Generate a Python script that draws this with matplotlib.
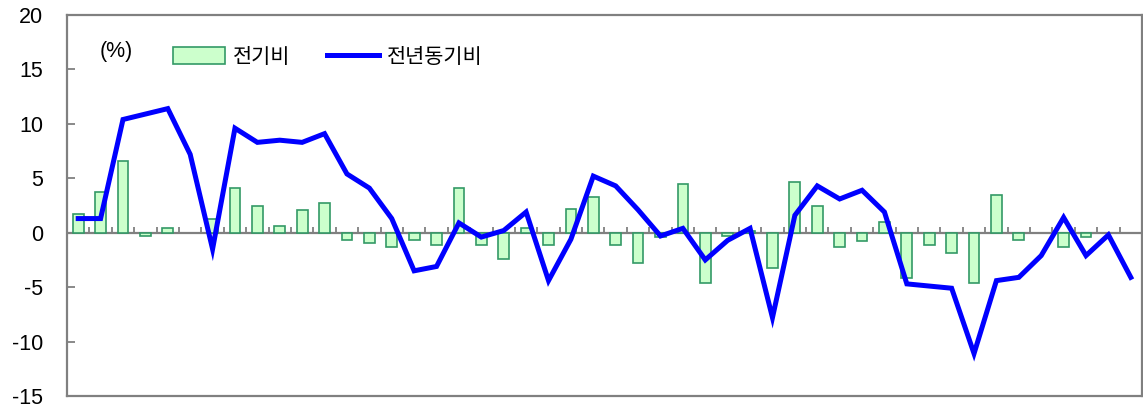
import matplotlib.pyplot as plt
import numpy as np

plt.rcParams['axes.unicode_minus'] = False

# 전기비 (막대) / 전년동기비 (선)
qoq = [1.7, 3.7, 6.6, -0.3, 0.4, 0.0, 1.3, 4.1, 2.5, 0.6, 2.1, 2.7,
       -0.7, -0.9, -1.3, -0.7, -1.1, 4.1, -1.1, -2.4, 0.4, -1.1, 2.2, 3.3,
       -1.1, -2.8, -0.4, 4.5, -4.6, -0.3, 0.2, -3.2, 4.7, 2.5, -1.3, -0.8,
       1.0, -4.2, -1.1, -1.9, -4.6, 3.5, -0.7, 0.0, -1.3, -0.4, 0.0, 0.0]
yoy = [1.3, 1.3, 10.4, 10.9, 11.4, 7.2, -1.5, 9.6, 8.3, 8.5, 8.3, 9.1,
       5.4, 4.1, 1.3, -3.5, -3.1, 0.9, -0.4, 0.2, 1.9, -4.4, -0.6, 5.2,
       4.3, 2.1, -0.3, 0.4, -2.5, -0.7, 0.4, -7.8, 1.6, 4.3, 3.1, 3.9,
       1.9, -4.7, -4.9, -5.1, -11.1, -4.4, -4.1, -2.1, 1.4, -2.1, -0.2, -4.1]
yticks = [-15, -10, -5, 0, 5, 10, 15, 20]

x = np.arange(len(qoq))
q = np.array(qoq)
gray = '#808080'

fig = plt.figure(figsize=(11.43, 4.08), dpi=100)
ax = fig.add_axes([67/1143, 12/408, 1075/1143, 381/408])

ax.axhline(0, color=gray, lw=1.6, zorder=1)
# 카테고리 경계의 짧은 눈금
ax.vlines(np.arange(1, len(qoq)) - 0.5, 0, 0.55, color=gray, lw=1.3, zorder=1)

# 0인 값은 막대를 그리지 않음
nz = q != 0
bars = ax.bar(x[nz], q[nz], width=0.48, color='#ccffcc', edgecolor='#339966',
              linewidth=1.2, zorder=2, label='전기비')
line, = ax.plot(x, yoy, color='#0000ff', lw=3.6, zorder=3,
                solid_joinstyle='miter', label='전년동기비')

ax.set_xlim(-0.5, len(qoq) - 0.5)
ax.set_ylim(-15, 20)
ax.set_yticks(yticks)
ax.set_xticks([])
ax.tick_params(axis='y', direction='in', length=6, width=1.3, color=gray,
               pad=17, labelsize=15.5)
for lab in ax.get_yticklabels():
    lab.set_family('Liberation Sans')
for s in ax.spines.values():
    s.set_color(gray)
    s.set_linewidth(1.6)

ax.text(0.0307, 0.903, '(%)', transform=ax.transAxes, va='center',
        ha='left', fontsize=15.5, family='Liberation Sans')

ax.legend(handles=[bars, line], loc='upper left', bbox_to_anchor=(0.0893, 0.947),
          ncol=2, frameon=False, borderpad=0, handlelength=2.5,
          handleheight=0.86, handletextpad=0.38, columnspacing=1.75,
          prop={'family': ['Noto Sans CJK KR', 'DejaVu Sans'], 'size': 15})

fig.savefig('out.png', dpi=100)
